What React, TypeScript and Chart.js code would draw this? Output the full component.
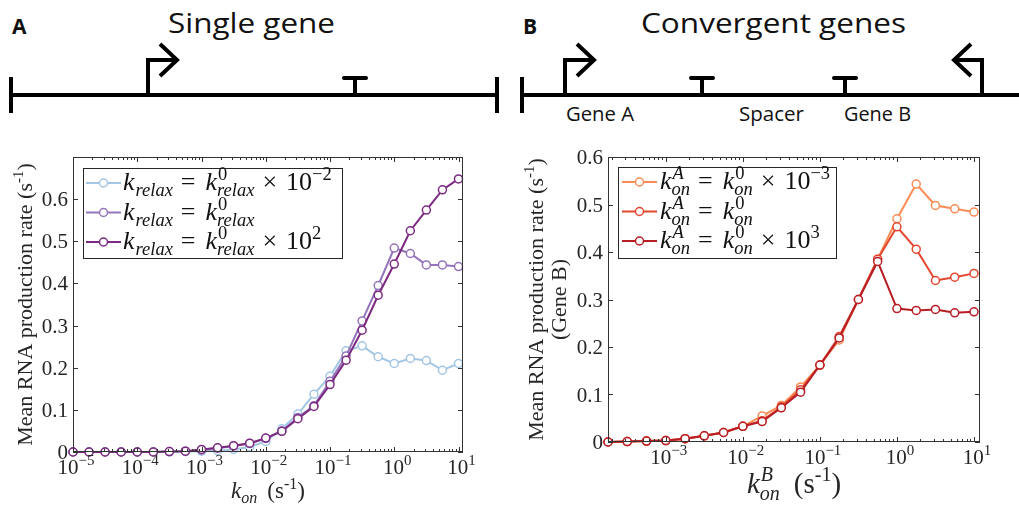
import React, { useEffect, useRef } from 'react';
import { Chart, registerables } from 'chart.js';

Chart.register(...registerables);

// ---------- DATA ----------
const kOnA = [
  1.0e-5, 1.78e-5, 3.16e-5, 5.62e-5, 1.0e-4, 1.78e-4, 3.16e-4, 5.62e-4,
  1.0e-3, 1.78e-3, 3.16e-3, 5.62e-3, 1.0e-2, 1.78e-2, 3.16e-2, 5.62e-2,
  0.1, 0.178, 0.316, 0.562, 1.0, 1.78, 3.16, 5.62, 10.0,
];
const relaxLow = [
  0, 0, 0, 0, 0, 0, 0, 0.001, 0.002, 0.003, 0.006, 0.012, 0.025, 0.055, 0.09, 0.137,
  0.18, 0.24, 0.252, 0.226, 0.21, 0.222, 0.217, 0.194, 0.21,
];
const relaxMid = [
  0, 0, 0, 0, 0, 0, 0.001, 0.002, 0.005, 0.009, 0.014, 0.02, 0.032, 0.05, 0.082, 0.11,
  0.168, 0.228, 0.311, 0.395, 0.484, 0.471, 0.444, 0.444, 0.44,
];
const relaxHigh = [
  0, 0, 0, 0, 0, 0, 0.001, 0.002, 0.006, 0.01, 0.015, 0.021, 0.033, 0.049, 0.079, 0.108,
  0.16, 0.218, 0.289, 0.372, 0.446, 0.525, 0.574, 0.622, 0.648,
];

const kOnB = [
  1.78e-4, 3.16e-4, 5.62e-4, 1.0e-3, 1.78e-3, 3.16e-3, 5.62e-3, 1.0e-2, 1.78e-2, 3.16e-2,
  5.62e-2, 0.1, 0.178, 0.316, 0.562, 1.0, 1.78, 3.16, 5.62, 10.0,
];
const konALow = [
  0, 0.001, 0.002, 0.003, 0.007, 0.013, 0.02, 0.033, 0.055, 0.077, 0.116, 0.162, 0.215,
  0.3, 0.385, 0.47, 0.543, 0.498, 0.491, 0.484,
];
const konAMid = [
  0, 0.001, 0.002, 0.003, 0.007, 0.013, 0.02, 0.033, 0.045, 0.074, 0.11, 0.162, 0.222,
  0.3, 0.385, 0.453, 0.406, 0.34, 0.347, 0.355,
];
const konAHigh = [
  0, 0.001, 0.002, 0.003, 0.007, 0.013, 0.02, 0.033, 0.043, 0.072, 0.105, 0.162, 0.219,
  0.3, 0.38, 0.281, 0.277, 0.279, 0.272, 0.274,
];

const yTicks = [0, 0.1, 0.2, 0.3, 0.4, 0.5, 0.6];
const yTickLabels = ['0', '0.1', '0.2', '0.3', '0.4', '0.5', '0.6'];
const xExpA = [-5, -4, -3, -2, -1, 0, 1];
const xExpB = [-3, -2, -1, 0, 1];
const xExpLabels: Record<number, string> = { [-5]: '−5', [-4]: '−4', [-3]: '−3', [-2]: '−2', [-1]: '−1', 0: '0', 1: '1' };

const COLORS_A = ['#a3c6e5', '#9474bb', '#7b2a80'];
const COLORS_B = ['#fa8c56', '#e3472f', '#b81e25'];

// ---------- TEXT HELPERS ----------
const SERIF = '"Liberation Serif","DejaVu Serif",serif';
const SANS = '"Open Sans","Noto Sans",sans-serif';
const AXIS = '#333333';

type Tok = { t?: string; it?: boolean; s?: number; dy?: number; gap?: number; sup?: Tok; sub?: Tok };

function fnt(t: Tok) {
  return `${t.it ? 'italic ' : ''}${t.s}px ${SERIF}`;
}
function tokW(ctx: CanvasRenderingContext2D, t: Tok): number {
  if (t.gap !== undefined) return t.gap;
  if (t.sup || t.sub) {
    let w = 0;
    for (const p of [t.sup, t.sub]) {
      if (p) {
        ctx.font = fnt(p);
        w = Math.max(w, ctx.measureText(p.t || '').width);
      }
    }
    return w;
  }
  ctx.font = fnt(t);
  return ctx.measureText(t.t || '').width;
}
function drawToks(ctx: CanvasRenderingContext2D, toks: Tok[], x: number, y: number, align: 'left' | 'center') {
  ctx.textAlign = 'left';
  ctx.textBaseline = 'alphabetic';
  const total = toks.reduce((a, t) => a + tokW(ctx, t), 0);
  let cx = align === 'center' ? x - total / 2 : x;
  for (const t of toks) {
    const w = tokW(ctx, t);
    if (t.gap !== undefined) {
      cx += w;
      continue;
    }
    if (t.sup || t.sub) {
      for (const p of [t.sup, t.sub]) {
        if (p) {
          ctx.font = fnt(p);
          ctx.fillText(p.t || '', cx + (p === t.sub ? 0 : 1), y + (p.dy || 0));
        }
      }
    } else {
      ctx.font = fnt(t);
      ctx.fillText(t.t || '', cx, y + (t.dy || 0));
    }
    cx += w;
  }
}

const L = 26; // legend main size
const LS = 18.5; // legend script size
const subTok = (t: string): Tok => ({ t, it: true, s: LS, dy: 6 });
const supTok = (t: string, it = false): Tok => ({ t, it, s: LS, dy: -10 });
const G = (gap: number): Tok => ({ gap });
const k = (): Tok => ({ t: 'k', it: true, s: L });
const legendA: Tok[][] = [
  [k(), G(1), subTok('relax'), G(8), { t: '=', s: L }, G(10), k(), { sup: supTok('0'), sub: subTok('relax') },
    G(8), { t: '×', s: L }, G(9), { t: '10', s: L }, supTok('−2')],
  [k(), G(1), subTok('relax'), G(8), { t: '=', s: L }, G(10), k(), { sup: supTok('0'), sub: subTok('relax') }],
  [k(), G(1), subTok('relax'), G(8), { t: '=', s: L }, G(10), k(), { sup: supTok('0'), sub: subTok('relax') },
    G(8), { t: '×', s: L }, G(9), { t: '10', s: L }, supTok('2')],
];
const konTok = (supText: string, supIt: boolean): Tok => ({ sup: supTok(supText, supIt), sub: subTok('on') });
const legendB: Tok[][] = [
  [k(), konTok('A', true), G(8), { t: '=', s: L }, G(10), k(), konTok('0', false),
    G(8), { t: '×', s: L }, G(9), { t: '10', s: L }, supTok('−3')],
  [k(), konTok('A', true), G(8), { t: '=', s: L }, G(10), k(), konTok('0', false)],
  [k(), konTok('A', true), G(8), { t: '=', s: L }, G(10), k(), konTok('0', false),
    G(8), { t: '×', s: L }, G(9), { t: '10', s: L }, supTok('3')],
];

const yTitle: Tok[] = [{ t: 'Mean RNA production rate (s', s: 22 }, { t: '-1', s: 15, dy: -9 }, { t: ')', s: 22 }];
const yTitleB2: Tok[] = [{ t: '(Gene B)', s: 22 }];
const xTitleA: Tok[] = [{ t: 'k', it: true, s: 23 }, { t: 'on', it: true, s: 16, dy: 5 }, G(10), { t: '(s', s: 23 }, { t: '-1', s: 16, dy: -9 }, { t: ')', s: 23 }];
const xTitleB: Tok[] = [{ t: 'k', it: true, s: 29 }, { sup: { t: 'B', it: true, s: 20, dy: -12 }, sub: { t: 'on', it: true, s: 20, dy: 7 } },
  G(14), { t: '(s', s: 29 }, { t: '-1', s: 20, dy: -12 }, { t: ')', s: 29 }];

type PanelCfg = {
  exps: number[];
  legend: Tok[][];
  colors: string[];
  legendBox: { dx: number; dy: number; w: number; h: number; lineX0: number; lineX1: number; textX: number };
  yTitleX: number;
  yTitle2X?: number;
  xTitle: Tok[];
  xTitleY: number;
};

function makePlugin(cfg: PanelCfg) {
  return {
    id: 'matlabAxes',
    afterDraw(chart: any) {
      const ctx: CanvasRenderingContext2D = chart.ctx;
      const ca = chart.chartArea;
      const xs = chart.scales.x;
      const ys = chart.scales.y;
      ctx.save();
      ctx.strokeStyle = AXIS;
      ctx.fillStyle = '#262626';
      ctx.lineWidth = 1;
      // box
      ctx.strokeRect(ca.left + 0.5, ca.top + 0.5, ca.right - ca.left - 1, ca.bottom - ca.top - 1);
      // x ticks
      const xmin = xs.min, xmax = xs.max;
      ctx.beginPath();
      for (let d = Math.floor(Math.log10(xmin)); d <= Math.ceil(Math.log10(xmax)); d++) {
        for (let m = 1; m <= 9; m++) {
          const v = m * Math.pow(10, d);
          if (v < xmin * 0.999 || v > xmax) continue;
          const px = Math.round(xs.getPixelForValue(v)) + 0.5;
          const len = m === 1 ? 5 : 3;
          ctx.moveTo(px, ca.bottom);
          ctx.lineTo(px, ca.bottom - len);
          ctx.moveTo(px, ca.top);
          ctx.lineTo(px, ca.top + len);
        }
      }
      // y ticks
      for (const v of yTicks) {
        const py = Math.round(ys.getPixelForValue(v)) + 0.5;
        ctx.moveTo(ca.left, py);
        ctx.lineTo(ca.left + 5, py);
        ctx.moveTo(ca.right, py);
        ctx.lineTo(ca.right - 5, py);
      }
      ctx.stroke();
      // y labels
      ctx.font = `21px ${SERIF}`;
      ctx.textAlign = 'right';
      ctx.textBaseline = 'alphabetic';
      yTicks.forEach((v, i) => {
        const py = ys.getPixelForValue(v);
        ctx.fillText(yTickLabels[i], ca.left - 5, py + 7);
      });
      // x labels
      for (const e of cfg.exps) {
        const px = xs.getPixelForValue(Math.pow(10, e));
        drawToks(ctx, [{ t: '10', s: 21 }, { t: xExpLabels[e], s: 15, dy: -9 }], px + 3, ca.bottom + 22, 'center');
      }
      // titles
      const cy = (ca.top + ca.bottom) / 2;
      ctx.save();
      ctx.translate(cfg.yTitleX, cy);
      ctx.rotate(-Math.PI / 2);
      drawToks(ctx, yTitle, 0, 0, 'center');
      ctx.restore();
      if (cfg.yTitle2X !== undefined) {
        ctx.save();
        ctx.translate(cfg.yTitle2X, cy);
        ctx.rotate(-Math.PI / 2);
        drawToks(ctx, yTitleB2, 0, 0, 'center');
        ctx.restore();
      }
      drawToks(ctx, cfg.xTitle, (ca.left + ca.right) / 2, cfg.xTitleY, 'center');
      // legend
      const lb = cfg.legendBox;
      const bx = ca.left + lb.dx, by = ca.top + lb.dy;
      ctx.fillStyle = '#ffffff';
      ctx.fillRect(bx, by, lb.w, lb.h);
      ctx.strokeStyle = '#262626';
      ctx.lineWidth = 1;
      ctx.strokeRect(bx + 0.5, by + 0.5, lb.w, lb.h);
      const rows = [15, 44.5, 74];
      cfg.legend.forEach((toks, i) => {
        const ry = by + rows[i];
        ctx.strokeStyle = cfg.colors[i];
        ctx.lineWidth = 2;
        ctx.beginPath();
        ctx.moveTo(bx + lb.lineX0, ry);
        ctx.lineTo(bx + lb.lineX1, ry);
        ctx.stroke();
        ctx.beginPath();
        ctx.arc(bx + (lb.lineX0 + lb.lineX1) / 2, ry, 4, 0, Math.PI * 2);
        ctx.fillStyle = '#ffffff';
        ctx.fill();
        ctx.lineWidth = 1.5;
        ctx.stroke();
        ctx.fillStyle = '#111111';
        drawToks(ctx, toks, bx + lb.textX, ry + 7, 'left');
      });
      ctx.restore();
    },
  };
}

function ds(xs: number[], ys: number[], color: string, order: number) {
  return {
    data: xs.map((x, i) => ({ x, y: ys[i] })),
    borderColor: color,
    backgroundColor: color,
    borderWidth: 2,
    pointRadius: 4,
    pointBorderWidth: 1.5,
    pointBackgroundColor: '#ffffff',
    pointBorderColor: color,
    tension: 0,
    clip: false as any,
    order,
  };
}

function Panel(props: {
  left: number; width: number; xs: number[]; series: number[][]; colors: string[];
  xmin: number; xmax: number; ymax: number; padding: { left: number; right: number; top: number; bottom: number };
  cfg: PanelCfg;
}) {
  const ref = useRef<HTMLCanvasElement | null>(null);
  useEffect(() => {
    if (!ref.current) return;
    const chart = new Chart(ref.current, {
      type: 'line',
      data: {
        datasets: props.series.map((s, i) => ds(props.xs, s, props.colors[i], props.series.length - i)),
      },
      options: {
        animation: false,
        responsive: false,
        maintainAspectRatio: false,
        devicePixelRatio: 1,
        layout: { padding: props.padding },
        plugins: { legend: { display: false }, tooltip: { enabled: false } },
        events: [],
        scales: {
          x: { type: 'logarithmic', min: props.xmin, max: props.xmax, display: false },
          y: { type: 'linear', min: 0, max: props.ymax, display: false },
        },
      },
      plugins: [makePlugin(props.cfg)],
    } as any);
    return () => chart.destroy();
  }, []);
  return (
    <canvas
      ref={ref}
      width={props.width}
      height={365}
      style={{ position: 'absolute', left: props.left, top: 140, width: props.width, height: 365 }}
    />
  );
}

function Diagram() {
  const txt = { fontFamily: SANS, fill: '#111' } as any;
  return (
    <svg width={1019} height={140} style={{ position: 'absolute', left: 0, top: 0 }}>
      <g stroke="#000" strokeWidth={4} fill="none" strokeLinejoin="miter">
        {/* panel A */}
        <line x1={11} y1={95} x2={497} y2={95} />
        <line x1={11} y1={77} x2={11} y2={113} />
        <line x1={497} y1={77} x2={497} y2={113} />
        <polyline points="148,97 148,60 176,60" />
        <polyline points="160,44 177,60 160,76" />
        <line x1={355} y1={95} x2={355} y2={79} />
        <line x1={344} y1={78} x2={366} y2={78} strokeLinecap="round" />
        {/* panel B */}
        <line x1={522} y1={95} x2={1019} y2={95} />
        <line x1={522} y1={77} x2={522} y2={113} />
        <polyline points="565,97 565,60 593,60" />
        <polyline points="577,44 594,60 577,76" />
        <line x1={702} y1={95} x2={702} y2={79} />
        <line x1={691} y1={78} x2={713} y2={78} strokeLinecap="round" />
        <line x1={845} y1={95} x2={845} y2={79} />
        <line x1={834} y1={78} x2={856} y2={78} strokeLinecap="round" />
        <polyline points="982,97 982,60 955,60" />
        <polyline points="971,44 954,60 971,76" />
      </g>
      <text x={12} y={34} style={{ ...txt, fontSize: 21, fontWeight: 700 }}>A</text>
      <text x={168} y={33} textLength={167} lengthAdjust="spacingAndGlyphs" style={{ ...txt, fontSize: 27 }}>Single gene</text>
      <text x={523} y={34} style={{ ...txt, fontSize: 21, fontWeight: 700 }}>B</text>
      <text x={641} y={33} textLength={265} lengthAdjust="spacingAndGlyphs" style={{ ...txt, fontSize: 27 }}>Convergent genes</text>
      <text x={566} y={121} textLength={68} lengthAdjust="spacingAndGlyphs" style={{ ...txt, fontSize: 20 }}>Gene A</text>
      <text x={739} y={121} textLength={65} lengthAdjust="spacingAndGlyphs" style={{ ...txt, fontSize: 20 }}>Spacer</text>
      <text x={844} y={121} textLength={67} lengthAdjust="spacingAndGlyphs" style={{ ...txt, fontSize: 20 }}>Gene B</text>
    </svg>
  );
}

const cfgA: PanelCfg = {
  exps: xExpA,
  legend: legendA,
  colors: COLORS_A,
  legendBox: { dx: 10, dy: 11, w: 259, h: 90, lineX0: 3, lineX1: 38, textX: 40 },
  yTitleX: 32,
  xTitle: xTitleA,
  xTitleY: 358,
};
const cfgB: PanelCfg = {
  exps: xExpB,
  legend: legendB,
  colors: COLORS_B,
  legendBox: { dx: 10, dy: 10, w: 218, h: 91, lineX0: 4, lineX1: 39, textX: 42 },
  yTitleX: 33,
  yTitle2X: 56,
  xTitle: xTitleB,
  xTitleY: 353,
};

export default function App() {
  return (
    <div style={{ position: 'fixed', left: 0, top: 0, width: 1019, height: 505, background: '#ffffff', overflow: 'hidden' }}>
      <Diagram />
      <Panel
        left={0}
        width={510}
        xs={kOnA}
        series={[relaxLow, relaxMid, relaxHigh]}
        colors={COLORS_A}
        xmin={1e-5}
        xmax={Math.pow(10, 1.07)}
        ymax={0.7}
        padding={{ left: 73, right: 47, top: 17, bottom: 53 }}
        cfg={cfgA}
      />
      <Panel
        left={510}
        width={509}
        xs={kOnB}
        series={[konALow, konAMid, konAHigh]}
        colors={COLORS_B}
        xmin={Math.pow(10, -3.75)}
        xmax={Math.pow(10, 1.078)}
        ymax={0.6}
        padding={{ left: 98, right: 39, top: 17, bottom: 63 }}
        cfg={cfgB}
      />
    </div>
  );
}
